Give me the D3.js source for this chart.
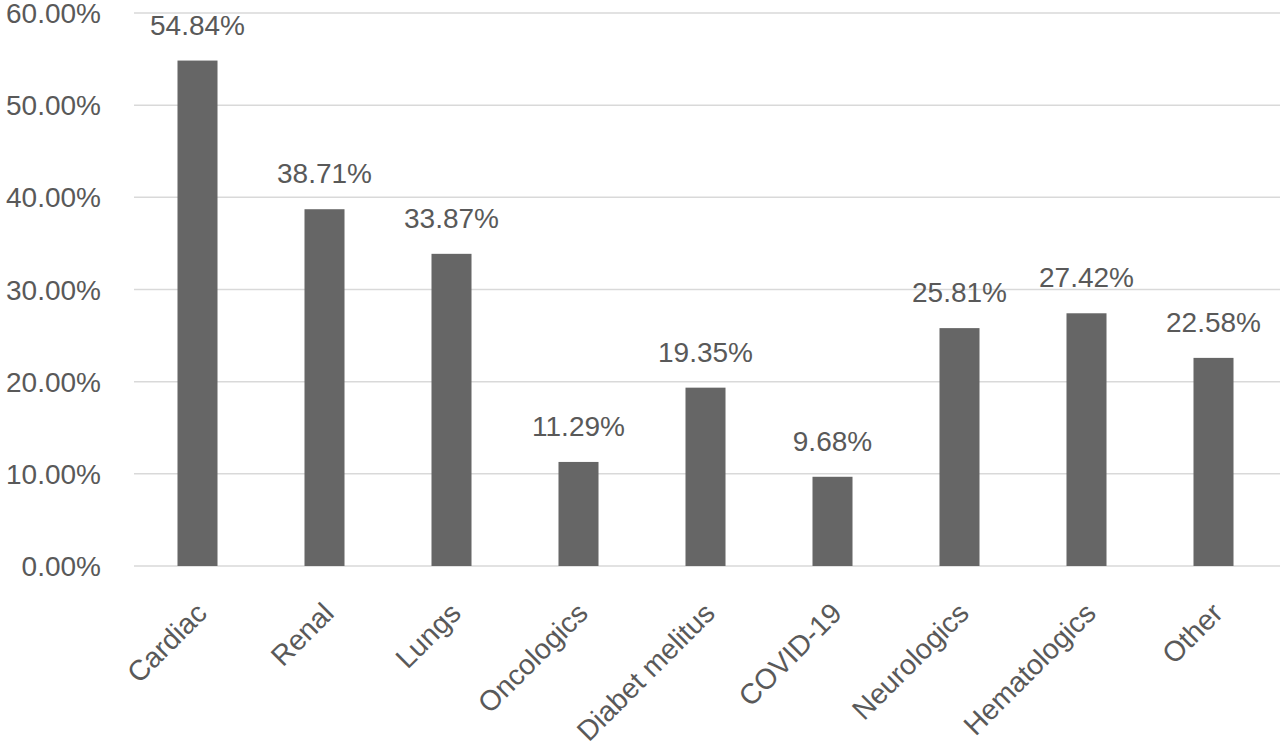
<!DOCTYPE html>
<html>
<head>
<meta charset="utf-8">
<script src="https://cdn.jsdelivr.net/npm/d3@7"></script>
<style>
  body { margin: 0; background: #fff; }
  text { font-family: "Liberation Sans", Arial, sans-serif; fill: #595959; }
</style>
</head>
<body>
<div class="chart"></div>
<script>
//Chart data
const categories = ['Cardiac', 'Renal', 'Lungs', 'Oncologics', 'Diabet melitus', 'COVID-19', 'Neurologics', 'Hematologics', 'Other'];
const values = [54.84, 38.71, 33.87, 11.29, 19.35, 9.68, 25.81, 27.42, 22.58];
const yTicks = [0, 10, 20, 30, 40, 50, 60];

const WIDTH = 1280;
const HEIGHT = 747;
const LEFT = 134;
const RIGHT = 1277;
const TOP = 13;
const BOTTOM = 566;

let svg = d3.select('.chart')
.append('svg')
.attr('width', WIDTH)
.attr('height', HEIGHT);

//Scales
const xScale = d3.scaleBand().domain(categories).range([LEFT, RIGHT]).paddingInner(0.685).paddingOuter(0.3425);
const yScale = d3.scaleLinear().domain([0, 60]).range([BOTTOM, TOP]);

//Gridlines
svg.append('g')
.selectAll()
.data(yTicks)
.enter()
.append('line')
.attr('x1', LEFT)
.attr('x2', WIDTH)
.attr('y1', d => yScale(d))
.attr('y2', d => yScale(d))
.style('stroke', '#d9d9d9')
.style('stroke-width', 1.5);

//Y tick labels
svg.append('g')
.selectAll()
.data(yTicks)
.enter()
.append('text')
.attr('x', 101)
.attr('y', d => yScale(d) + 10)
.attr('text-anchor', 'end')
.style('font-size', '28px')
.text(d => d.toFixed(2) + '%');

//Bars
svg.append('g')
.selectAll()
.data(values)
.enter()
.append('rect')
.attr('x', (d, i) => xScale(categories[i]))
.attr('width', xScale.bandwidth())
.attr('y', d => yScale(d))
.attr('height', d => yScale(0) - yScale(d))
.style('fill', '#666666');

//Value labels
svg.append('g')
.selectAll()
.data(values)
.enter()
.append('text')
.attr('x', (d, i) => xScale(categories[i]) + xScale.bandwidth() / 2)
.attr('y', d => yScale(d) - 26)
.attr('text-anchor', 'middle')
.style('font-size', '28px')
.text(d => d.toFixed(2) + '%');

//Category labels
svg.append('g')
.selectAll()
.data(categories)
.enter()
.append('text')
.attr('transform', d => `translate(${xScale(d) + xScale.bandwidth() / 2 + 11}, 615) rotate(-45)`)
.attr('text-anchor', 'end')
.style('font-size', '28.5px')
.text(d => d);
</script>
</body>
</html>
